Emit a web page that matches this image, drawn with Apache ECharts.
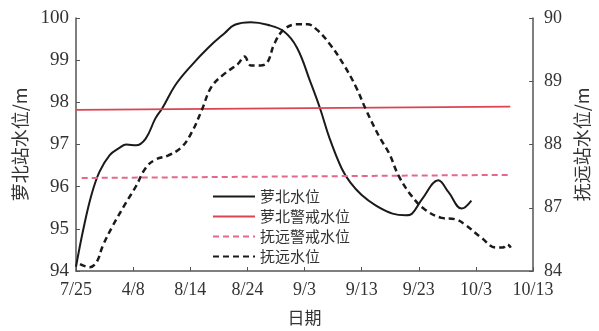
<!DOCTYPE html>
<html><head><meta charset="utf-8">
<script src="https://cdn.jsdelivr.net/npm/echarts@6/dist/echarts.min.js"></script>
<style>html,body{margin:0;padding:0;background:#fff}#c{width:599px;height:331px}</style>
</head><body><div id="c"></div>
<script>
// x tick labels (10-day steps from 7/25), right axis labels as printed
var xTickLabels = ['7/25','4/8','8/14','8/24','9/3','9/13','9/23','10/3','10/13'];
var rightTickLabels = ['84','87','88','89','90'];

// 萝北水位 (left axis), days after 7/25
var luobeiDays = [0, 1.3, 2.7, 4.1, 5.9, 7.6, 8.8, 10.5, 12.2, 13.9, 15.1, 17.4, 20.3, 23.1, 26.0, 27.8, 30.6, 33.5, 36.4, 38.7, 41, 42.7, 44.4, 46.5, 48, 50, 52.5, 55.4, 57.7, 58.8, 60.6, 63.4, 65.2, 67.5, 69.2];
var luobeiLevels = [94.1, 95.0, 95.8, 96.35, 96.75, 96.92, 97.0, 96.98, 97.14, 97.62, 97.86, 98.41, 98.89, 99.29, 99.64, 99.84, 99.9, 99.84, 99.68, 99.29, 98.49, 97.86, 97.14, 96.43, 96.1, 95.8, 95.55, 95.36, 95.32, 95.36, 95.71, 96.15, 95.87, 95.48, 95.67];

// 抚远水位 (right axis)
var fuyuanDays = [0.7, 2.4, 3.6, 4.7, 6.4, 8.75, 10.5, 12.2, 13.9, 16.2, 18.5, 20.3, 22, 23.7, 26, 28.3, 29.5, 30.6, 32.3, 33.5, 34.7, 36.4, 38.7, 40.5, 42.1, 44.4, 46.8, 49, 50.8, 53.1, 54.8, 56.5, 58.8, 61.1, 64, 66.3, 68, 70.9, 73.5, 74.7, 75.5, 76.1];
var fuyuanLevels = [86.11, 86.06, 86.14, 86.4, 86.71, 87.08, 87.34, 87.63, 87.76, 87.83, 87.96, 88.2, 88.54, 88.91, 89.12, 89.27, 89.39, 89.25, 89.25, 89.3, 89.59, 89.82, 89.9, 89.9, 89.82, 89.59, 89.27, 88.91, 88.54, 88.12, 87.86, 87.5, 87.18, 86.97, 86.84, 86.82, 86.74, 86.53, 86.37, 86.37, 86.42, 86.37];

// warning levels
var luobeiWarnDays = [0, 76];
var luobeiWarnLevels = [97.82, 97.9];
var fuyuanWarnDays = [1, 76];
var fuyuanWarnLevels = [87.47, 87.52];

function zip(a, b){ return a.map(function(v,i){ return [v, b[i]]; }); }

var serif = 'Liberation Serif';
var cjk = 'Noto Sans CJK SC';
var axisCol = '#555';
var txtCol = '#333';

var chart = echarts.init(document.getElementById('c'));
chart.setOption({
  animation: false,
  backgroundColor: '#fff',
  grid: {left: 76, right: 59, top: 18, bottom: 59},
  legend: {
    orient: 'vertical', left: 207, top: 184, itemGap: 5,
    itemWidth: 42, itemHeight: 14,
    itemStyle: {opacity: 0},
    textStyle: {fontFamily: cjk, fontSize: 15, color: txtCol},
    data: ['萝北水位','萝北警戒水位','抚远警戒水位','抚远水位']
  },
  xAxis: {
    type: 'value', min: 0, max: 80, interval: 10,
    name: '日期', nameLocation: 'middle', nameGap: 38,
    nameTextStyle: {fontFamily: cjk, fontSize: 17, color: txtCol},
    axisLine: {show: true, lineStyle: {color: axisCol, width: 1.5}},
    axisTick: {show: true, inside: true, length: 4, lineStyle: {color: axisCol}},
    splitLine: {show: false},
    axisLabel: {fontFamily: serif, fontSize: 18, color: txtCol, margin: 10,
      formatter: function(v){ return xTickLabels[Math.round(v/10)] || ''; }}
  },
  yAxis: [{
    type: 'value', min: 94, max: 100, interval: 1, position: 'left',
    name: '萝北站水位/m', nameLocation: 'middle', nameGap: 46, nameRotate: 90,
    nameTextStyle: {fontFamily: cjk, fontSize: 18, color: txtCol},
    axisLine: {show: true, lineStyle: {color: axisCol, width: 1.5}},
    axisTick: {show: true, inside: true, length: 4, lineStyle: {color: axisCol}},
    splitLine: {show: false},
    axisLabel: {fontFamily: serif, fontSize: 19, color: txtCol, margin: 7}
  }, {
    type: 'value', min: 86, max: 90, interval: 1, position: 'right',
    name: '抚远站水位/m', nameLocation: 'middle', nameGap: 38, nameRotate: 90,
    nameTextStyle: {fontFamily: cjk, fontSize: 18, color: txtCol},
    axisLine: {show: true, lineStyle: {color: axisCol, width: 1.5}},
    axisTick: {show: true, inside: true, length: 4, lineStyle: {color: axisCol}},
    splitLine: {show: false},
    axisLabel: {fontFamily: serif, fontSize: 18, color: txtCol, margin: 11,
      formatter: function(v){ return rightTickLabels[Math.round(v-86)]; }}
  }],
  series: [{
    name: '萝北水位', type: 'line', yAxisIndex: 0, smooth: 0.4, symbol: 'none',
    data: zip(luobeiDays, luobeiLevels),
    lineStyle: {color: '#1a1a1a', width: 2}, itemStyle: {color: '#1a1a1a'}
  }, {
    name: '萝北警戒水位', type: 'line', yAxisIndex: 0, symbol: 'none',
    data: zip(luobeiWarnDays, luobeiWarnLevels),
    lineStyle: {color: '#dc4453', width: 1.8}, itemStyle: {color: '#dc4453'}
  }, {
    name: '抚远警戒水位', type: 'line', yAxisIndex: 1, symbol: 'none',
    data: zip(fuyuanWarnDays, fuyuanWarnLevels),
    lineStyle: {color: '#e5688a', width: 2, type: [6, 4]}, itemStyle: {color: '#e5688a'}
  }, {
    name: '抚远水位', type: 'line', yAxisIndex: 1, smooth: 0.4, symbol: 'none',
    data: zip(fuyuanDays, fuyuanLevels),
    lineStyle: {color: '#1a1a1a', width: 2.5, type: [6, 4]}, itemStyle: {color: '#1a1a1a'}
  }]
});
</script></body></html>
